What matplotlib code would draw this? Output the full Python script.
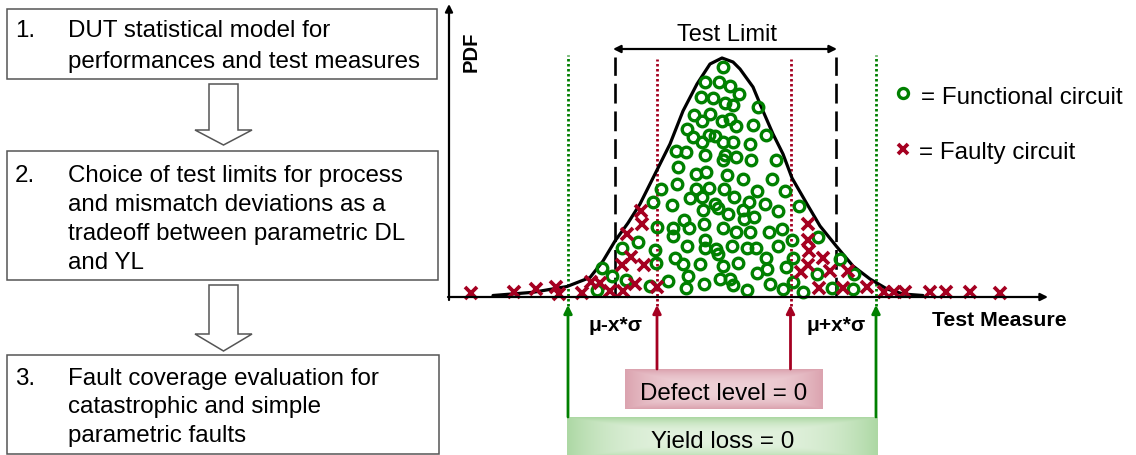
import matplotlib
matplotlib.use('Agg')
import matplotlib.pyplot as plt
import numpy as np
from matplotlib.patches import Rectangle, Polygon

plt.rcParams['font.family'] = ['Liberation Sans', 'DejaVu Sans']

# ---------------- data (measure units / pdf units) ----------------
curve_x = [44, 84, 118, 141, 154, 166, 179, 191, 203, 221, 234, 248, 261, 273, 284, 291,
           304, 314, 324, 334, 343, 358, 371, 388, 404, 421, 438, 454, 474]
curve_y = [1.5, 4.7, 10.5, 19.5, 36, 56, 74, 93, 117, 153, 186, 213, 233, 239, 235, 228,
           210, 186, 163, 143, 119, 93, 71, 50, 31, 18, 8, 3, 1.5]

func_x = [273.7, 256, 270, 280.5, 289.5, 252.3, 264.3, 275.5, 283.5, 309.3, 245, 261, 253.3, 273,
          280.6, 286.5, 304.3, 237.7, 244, 259.8, 266, 273.5, 252.6, 283.5, 317, 301, 227.3, 236.5,
          256, 276, 273.5, 286.5, 302.3, 326.5, 229.3, 247, 257, 277.7, 293.7, 322.7, 212, 227.8,
          246.5, 260.3, 275, 284.7, 307.7, 336, 204.3, 223.2, 241.4, 252.7, 265.5, 268.5, 278.8,
          254.3, 294.3, 300.3, 316, 329.3, 350.3, 295, 305, 234.8, 255, 273.7, 286.8, 301, 320.3,
          333.3, 207.9, 224.3, 224.3, 239.8, 189.3, 206, 237.7, 256, 255.5, 266.5, 269.3, 282.7,
          297.7, 307, 329.3, 369.3, 172.7, 226, 234.3, 250.6, 274, 288.5, 317, 318.3, 307.7, 343.7,
          337.3, 207.4, 153.2, 162.7, 177.3, 218.8, 239.3, 236.5, 255, 271, 281, 283.6, 297.7, 321,
          334, 343.7, 354.3, 368.3, 391, 404.6, 404, 383.2, 200.6, 148.2, 342.7]
func_y = [229.7, 214.7, 214.7, 210.7, 203.5, 199.7, 198.7, 194.3, 192.2, 190.5, 182.2, 183.4, 176.3,
          176.3, 178.3, 170.8, 172.5, 168, 160.5, 161.8, 161, 155, 154.7, 155, 162.5, 153.3, 145.8,
          145.5, 141.8, 142.5, 137.5, 140.5, 137.5, 137.5, 129.7, 123.4, 125.2, 122.5, 118, 118.5,
          108, 113, 107.7, 109.2, 107.7, 99.7, 106.3, 106.3, 95, 92.5, 98.7, 99.7, 93, 88.7, 83,
          87.3, 87.3, 95.3, 93, 86.3, 90.7, 78, 79.7, 76.8, 73, 69.2, 65.3, 65.3, 64.7, 68, 69.7,
          68.7, 61, 68.7, 55.3, 47, 51.3, 57.2, 48.8, 48.4, 43, 51.3, 48.7, 48.7, 51.3, 59.7, 48.7,
          38.7, 33.5, 33.5, 31, 34, 38.7, 28, 24, 39.2, 29.7, 33.8, 29.5, 21.2, 17, 16.3, 21.3, 9.2,
          13, 18, 18.4, 12.5, 7.3, 13, 8.4, 15.5, 5.5, 23, 38.4, 23, 8.4, 9, 11.3, 7.5, 57.3]

fault_x = [21.7, 65, 87, 107, 110, 132.5, 141.5, 151, 160.5, 174.3, 186, 172.7, 182, 195, 177.7,
           192, 192.7, 207.5,
           358.8, 358.5, 360.3, 374, 358.5, 352.3, 381, 398.5, 370.3, 394, 418, 435, 445, 456,
           481, 497, 521, 551]
fault_y = [4, 5.3, 8, 9.7, 3.5, 4.5, 15.5, 14.5, 6.3, 6.3, 13.5, 32, 40.5, 32, 63, 86, 73, 9.7,
           73, 57.3, 46.3, 39.3, 32, 25, 25.8, 25.8, 9.2, 8.8, 10.2, 4.7, 5.3, 5.3, 4.7, 5.3, 5.3,
           4.2]

test_limits = [165.5, 386.5]      # dashed black
defect_limits = [208, 341.5]      # red dotted  (mu -/+ x*sigma, DL)
yield_limits = [119, 427]         # green dotted (YL)

box_texts = [
    ("1.", ["DUT statistical model for", "performances and test measures"]),
    ("2.", ["Choice of test limits for process", "and mismatch deviations as a",
            "tradeoff between parametric DL", "and YL"]),
    ("3.", ["Fault coverage evaluation for", "catastrophic and simple",
            "parametric faults"]),
]

GREEN = '#008000'
RED = '#A50021'

fig = plt.figure(figsize=(11.36, 4.56), dpi=100)

# ---------- flow chart axes (pixel coordinates) ----------
axf = fig.add_axes([0, 0, 1, 1])
axf.set_xlim(0, 1136)
axf.set_ylim(456, 0)
axf.axis('off')

boxes = [(7, 10, 437, 80), (7, 152, 438, 281), (7, 356, 439, 455)]
baselines = [[37, 68], [182, 211.5, 240.5, 269], [385, 413.5, 442]]
for (x0, y0, x1, y1), (num, lines), bl in zip(boxes, box_texts, baselines):
    axf.add_patch(Rectangle((x0, y0), x1 - x0, y1 - y0, fill=False, ec='#555555', lw=1.1))
    axf.text(15, bl[0], num, fontsize=17.4, va='baseline', ha='left', color='black')
    for ln, b in zip(lines, bl):
        axf.text(68, b, ln, fontsize=17.4, va='baseline', ha='left', color='black')

for top, base, tip in [(85, 131, 146), (286, 335, 352)]:
    pts = [(209, top), (238, top), (238, base), (252, base), (223.5, tip), (195, base), (209, base)]
    axf.add_patch(Polygon(pts, closed=True, fill=True, fc='white', ec='#555555', lw=1.1))

# ---------- chart axes (measure / pdf units) ----------
ax = fig.add_axes([0, 0, 1, 1])
ax.set_xlim(-449, 687)
ax.set_ylim(-158, 298)
ax.axis('off')
ax.patch.set_alpha(0)


def grad_box(x0, x1, y0, y1, edge, center, z=1):
    nx, ny = 200, 40
    gx = np.abs(np.linspace(-1, 1, nx))
    gy = np.abs(np.linspace(-1, 1, ny))
    t = np.clip(np.maximum(gx[None, :] ** 3, gy[:, None] ** 2.5), 0, 1)
    e = np.array(matplotlib.colors.to_rgb(edge))
    c = np.array(matplotlib.colors.to_rgb(center))
    img = c[None, None, :] * (1 - t[..., None]) + e[None, None, :] * t[..., None]
    ax.imshow(img, extent=(x0, x1, y0, y1), aspect='auto', zorder=z, interpolation='bilinear')


grad_box(176, 374, -112, -72, '#DBA3AF', '#EED0D6')
grad_box(118, 429, -162, -120, '#ADD8A4', '#E3F2DF')
ax.set_xlim(-449, 687)
ax.set_ylim(-158, 298)

# axes arrows
ax.annotate('', xy=(0, 293), xytext=(0, -3),
            arrowprops=dict(arrowstyle='-|>', lw=1.6, color='black', mutation_scale=11,
                            shrinkA=0, shrinkB=0), zorder=6)
ax.annotate('', xy=(599, 0), xytext=(-1, 0),
            arrowprops=dict(arrowstyle='-|>', lw=1.6, color='black', mutation_scale=11,
                            shrinkA=0, shrinkB=0), zorder=6)

# vertical limit lines
for xv in test_limits:
    ax.plot([xv, xv], [0, 240], color='black', lw=1.9, dashes=(7.5, 3), zorder=2)
for xv in defect_limits:
    ax.plot([xv, xv], [-9, 238], color=RED, lw=2.0, linestyle=(0, (0.9, 0.9)), zorder=2)
for xv in yield_limits:
    ax.plot([xv, xv], [-9, 242], color=GREEN, lw=2.0, linestyle=(0, (0.9, 0.9)), zorder=2)

# arrows from boxes
for xv in defect_limits:
    ax.annotate('', xy=(xv, -8), xytext=(xv, -72),
                arrowprops=dict(arrowstyle='-|>', lw=2, color=RED, mutation_scale=12,
                                shrinkA=0, shrinkB=0), zorder=3)
for xv in yield_limits:
    ax.annotate('', xy=(xv, -8), xytext=(xv, -120),
                arrowprops=dict(arrowstyle='-|>', lw=2, color=GREEN, mutation_scale=12,
                                shrinkA=0, shrinkB=0), zorder=3)

# test limit arrow
ax.annotate('', xy=(test_limits[0] - 1.5, 248), xytext=(test_limits[1] + 1.5, 248),
            arrowprops=dict(arrowstyle='<|-|>', lw=1.6, color='black', mutation_scale=11,
                            shrinkA=0, shrinkB=0), zorder=3)
ax.text(278, 257.5, 'Test Limit', fontsize=17, ha='center', va='baseline')

# curve
ax.plot(curve_x, curve_y, color='black', lw=2.3, solid_capstyle='round', zorder=4)

# markers
ax.plot(func_x, func_y, linestyle='none', marker='o', ms=7.6, mfc='none', mec=GREEN, mew=2.4,
        zorder=5)
ax.plot(fault_x, fault_y, linestyle='none', marker='x', ms=8, mec=RED, mew=2.7, zorder=5)

# legend
ax.plot([454], [204], linestyle='none', marker='o', ms=7.2, mfc='none', mec=GREEN, mew=2.4)
ax.plot([454], [148], linestyle='none', marker='x', ms=7.4, mec=RED, mew=2.7)
ax.text(472, 194, '= Functional circuit', fontsize=17.4, ha='left', va='baseline')
ax.text(470, 138.5, '= Faulty circuit', fontsize=17.4, ha='left', va='baseline')

# axis labels
ax.text(22.5, 246, 'PDF', fontsize=14.5, fontweight='bold', rotation=90, ha='center',
        va='center')
ax.text(482.5, -28.5, 'Test Measure', fontsize=15.3, fontweight='bold', ha='left',
        va='baseline')
ax.text(166, -33, 'μ-x*σ', fontsize=15, fontweight='bold', ha='center', va='baseline')
ax.text(387, -33, 'μ+x*σ', fontsize=15, fontweight='bold', ha='center', va='baseline')

ax.text(275, -102, 'Defect level = 0', fontsize=17.4, ha='center', va='baseline', zorder=6)
ax.text(273.5, -150.3, 'Yield loss = 0', fontsize=17.4, ha='center', va='baseline', zorder=6)

fig.savefig('out.png', dpi=100)
